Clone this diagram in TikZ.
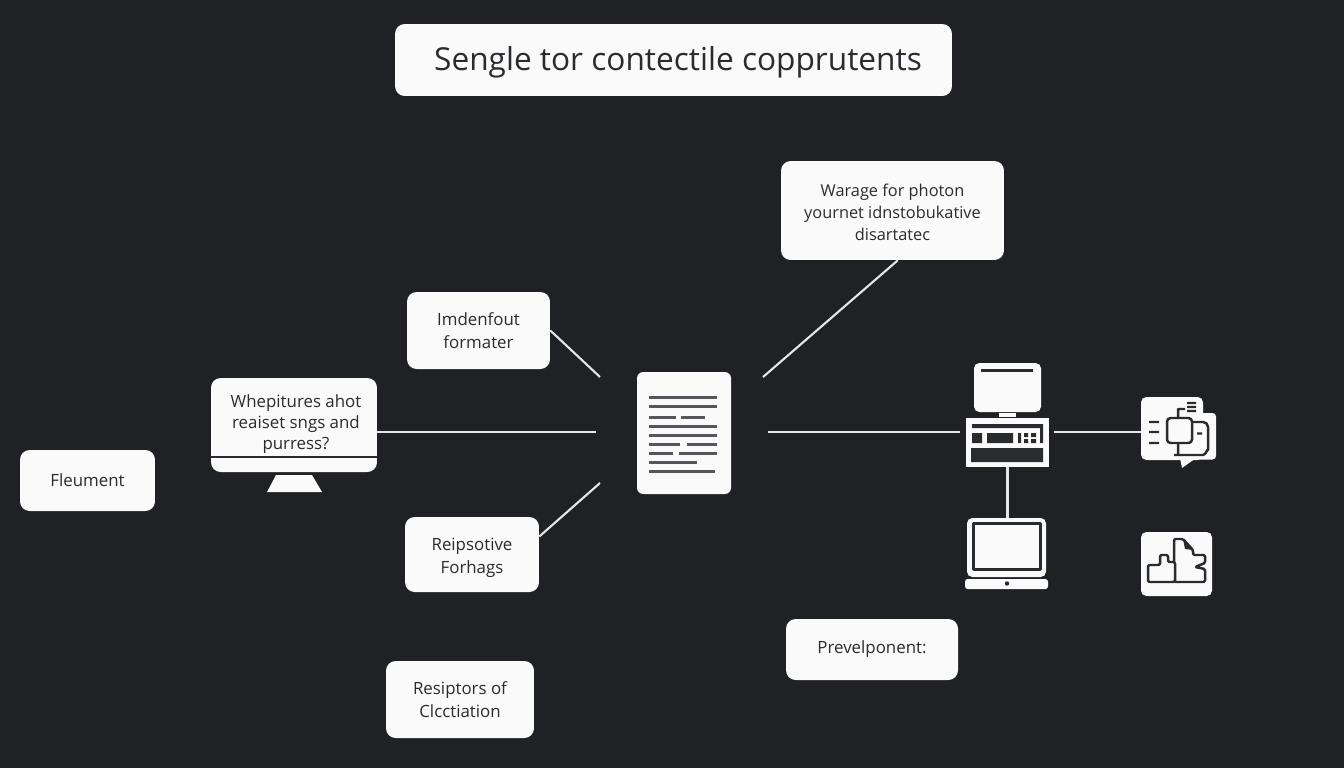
\documentclass[tikz,border=0pt]{standalone}
\usepackage{fontspec}
\setmainfont{Open Sans}
\definecolor{bgdark}{HTML}{202124}
\definecolor{boxwhite}{HTML}{FAFAFA}
\definecolor{inkdark}{HTML}{2A2B2E}
\definecolor{docgray}{HTML}{55565A}
\tikzset{
	box/.style={fill=boxwhite,rounded corners=5.5pt,text=inkdark,align=center,font=\fontsize{9.6}{12.9}\selectfont,inner sep=0pt},
	wire/.style={draw=boxwhite!92!black,line width=1.2pt},
	solid/.style={fill=boxwhite,rounded corners=3pt},
	ink/.style={draw=inkdark,line width=1.4pt,line join=round},
}
\begin{document}
\begin{tikzpicture}[x=0.02cm,y=-0.02cm]
	\fill[bgdark] (0,0) rectangle (1344,768);
	\useasboundingbox (0,0) rectangle (1344,768);
	% title and text boxes
	\node[box,minimum width=11.14cm,minimum height=1.44cm] (title) at (673.5,60) {};
	\node[box,fill=none,font=\fontsize{18}{20}\selectfont] (titletext) at (678,62.5) {Sengle tor contectile copprutents};
	\node[box,minimum width=4.46cm,minimum height=1.98cm] (war) at (892.5,210.5) {};
	\node[box,fill=none,font=\fontsize{9.3}{12.7}\selectfont] (wartext) at (892.5,212.5) {Warage for photon\\yournet idnstobukative\\disartatec};
	\node[box,minimum width=2.86cm,minimum height=1.54cm] (imp) at (478.5,330.5) {Imdenfout\\formater};
	\node[box,minimum width=2.7cm,minimum height=1.22cm] (fle) at (87.5,480.5) {Fleument};
	\node[box,minimum width=2.68cm,minimum height=1.5cm] (rsp) at (472,554.5) {};
	\node[box,fill=none] (rsptext) at (472,557.5) {Reipsotive\\Forhags};
	\node[box,minimum width=3.44cm,minimum height=1.22cm] (pre) at (872,649.5) {Prevelponent:};
	\node[box,minimum width=2.96cm,minimum height=1.54cm] (rec) at (460,699.5) {Resiptors of\\Clcctiation};
	% monitor with the question
	\fill[boxwhite] (267,492) -- (276,475) -- (312,475) -- (322,492) -- cycle;
	\node[box,minimum width=3.32cm,minimum height=1.88cm] (whep) at (294,425) {};
	\draw[ink,line width=1.5pt] (211,457) -- (377,457);
	\node[box,fill=none,font=\fontsize{9.6}{12}\selectfont] (wheptext) at (296,424.5) {Whepitures ahot\\reaiset sngs and\\purress?};
	% document
	\node[box,minimum width=1.88cm,minimum height=2.44cm,rounded corners=3.5pt] (doc) at (684,433) {};
	\draw[docgray,line width=1.7pt]
		(649,397.5) -- (717,397.5) (649,406) -- (717,406)
		(649,417.5) -- (676,417.5) (681,417.5) -- (705,417.5)
		(649,426) -- (717,426) (649,435) -- (717,435)
		(649,444) -- (680,444) (687,444) -- (717,444)
		(649,453) -- (673,453) (679,453) -- (717,453)
		(649,462) -- (697,462) (649,471) -- (715,471);
	% server
	\node[solid,minimum width=1.34cm,minimum height=0.98cm,inner sep=0pt] (screen) at (1007.5,387.5) {};
	\draw[ink,line width=1.6pt] (981,370.5) -- (1033,370.5);
	\fill[boxwhite] (999,413) rectangle (1016,417);
	\node[fill=boxwhite,minimum width=1.66cm,minimum height=0.98cm,inner sep=0pt] (srv) at (1007.5,442.5) {};
	\fill[inkdark] (972,424) rectangle (1043,428) (1040,428) rectangle (1043,443)
		(972,433) rectangle (982,443) (987,433) rectangle (1013,443)
		(1018,433) rectangle (1021,443) (1024,433) rectangle (1028,437) (1031,433) rectangle (1036,437)
		(1024,439) rectangle (1028,443) (1031,439) rectangle (1036,443)
		(971,448) rectangle (1043,462);
	% laptop
	\node[solid,minimum width=1.58cm,minimum height=1.18cm,inner sep=0pt] (lap) at (1006.5,547.5) {};
	\draw[ink,line width=1.2pt] (973.5,523.5) rectangle (1040.5,569.5);
	\fill[boxwhite,rounded corners=1.5pt] (965,579) rectangle (1048,589);
	\fill[inkdark] (1007,583.5) circle (2.2);
	% chat icon
	\node[solid,minimum width=1.24cm,minimum height=1.26cm,inner sep=0pt] (chat) at (1172,428.5) {};
	\fill[boxwhite,rounded corners=2pt] (1195,413) rectangle (1216,459.5);
	\fill[boxwhite] (1180,458) -- (1182,468) -- (1196,458) -- cycle;
	\draw[ink] (1149,422) -- (1159,422) (1149,432) -- (1159,432) (1149,443) -- (1159,443)
		(1178,418) -- (1178,409) -- (1185,409)
		(1187,403) -- (1196,403) (1187,407) -- (1196,407) (1187,411) -- (1196,411)
		(1192,422) -- (1203,422) to[out=0,in=90] (1208,427) -- (1208,450) to[out=90,in=0] (1203,455) -- (1174,455)
		(1178,443) -- (1178,455)
		(1197,433.5) -- (1202,433.5);
	\draw[ink,rounded corners=2pt] (1167,418) rectangle (1192,443);
	% blocks icon
	\node[solid,minimum width=1.42cm,minimum height=1.28cm,inner sep=0pt] (blk) at (1176.5,564) {};
	\draw[ink,rounded corners=0.8pt] (1148,582) -- (1148,565) -- (1160,565) -- (1160,555) -- (1168,555) -- (1168,562) -- (1175,562) -- (1175,582) -- cycle
		(1174,562) -- (1174,539) -- (1183,539) -- (1193,550) -- (1193,555) -- (1205,555) -- (1205,563) -- (1195,567) -- (1205,569) -- (1205,582) -- (1175,582);
	\fill[inkdark] (1183,539) -- (1185,549) -- (1193,550) -- cycle;
	% free ends of the connectors
	\coordinate (docnw) at (600,377);
	\coordinate (docsw) at (600,483);
	\coordinate (docw) at (596,432);
	\coordinate (docne) at (763,377);
	\coordinate (doce) at (768,432);
	\coordinate (srvw) at (960,432);
	\coordinate (srve) at (1054,432);
	% connectors
	\draw[wire] (imp.east) -- (docnw);
	\draw[wire] (whep.east |- docw) -- (docw);
	\draw[wire] (rsp.15) -- (docsw);
	\draw[wire] (docne) -- (war.-84);
	\draw[wire] (doce) -- (srvw);
	\draw[wire] (srve) -- (chat.west |- srve);
	\draw[wire] (srv.south) -- (srv.south |- lap.north);
\end{tikzpicture}
\end{document}
